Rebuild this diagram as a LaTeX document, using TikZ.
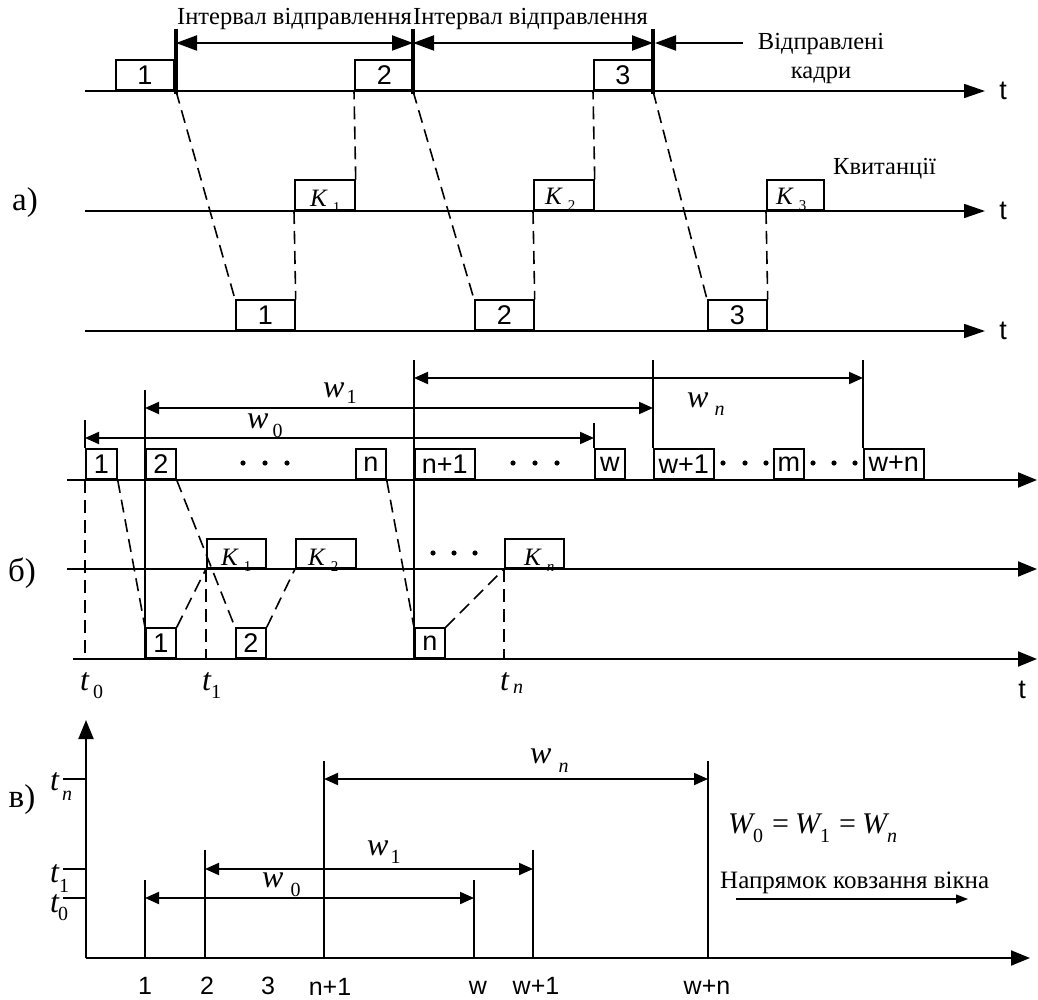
\documentclass[tikz,border=0pt]{standalone}
\usepackage{fontspec}
\setmainfont{Liberation Serif}
\setsansfont{Liberation Sans}
\usetikzlibrary{arrows.meta}
\newcommand\isub[4]{{\itshape #1}\kern#3pt\raisebox{-#4pt}{\fontsize{20}{20}\selectfont #2}}
\newcommand\klabel[1]{{\itshape K}\kern6pt\raisebox{-6pt}{\fontsize{15}{15}\selectfont #1}}
\tikzset{
 axisA/.style={line width=1.5pt, -{Triangle[length=21pt,width=14pt]}},
 axisB/.style={line width=2pt, -{Triangle[length=19pt,width=15pt]}},
 ln/.style={line width=2pt},
 thk/.style={line width=3.5pt},
 dimA/.style={line width=2pt, {Triangle[length=21pt,width=15pt]}-{Triangle[length=21pt,width=15pt]}},
 dimB/.style={line width=2pt, {Triangle[length=14pt,width=12pt]}-{Triangle[length=14pt,width=12pt]}},
 dsh/.style={line width=1.6pt, dash pattern=on 13pt off 7pt},
 frm/.style={draw, line width=1.7pt, inner sep=0pt, minimum height=30pt, anchor=south west, font=\sffamily\fontsize{27}{27}\selectfont},
 ser/.style={inner sep=0pt, font=\fontsize{24.5}{28}\selectfont},
 mlab/.style={inner sep=0pt, anchor=base west, font=\fontsize{32}{32}\selectfont},
 klab/.style={inner sep=0pt, anchor=base west, font=\fontsize{25}{25}\selectfont},
 tlab/.style={inner sep=0pt, font=\sffamily\fontsize{27}{27}\selectfont},
 xlab/.style={inner sep=0pt, anchor=base, font=\sffamily\fontsize{25}{25}\selectfont},
 plab/.style={inner sep=0pt, font=\fontsize{33}{33}\selectfont},
 dotf/.style={fill=black}
}
\begin{document}
\begin{tikzpicture}[x=1pt,y=-1pt]
\useasboundingbox (0,0) rectangle (1038,1000);
% ================= a) =================
\node[plab] (la) at (25,203) {а)};
\draw[axisA] (85,91) -- (985,91);
\draw[axisA] (85,211) -- (985,211);
\draw[axisA] (85,331) -- (985,331);
\node[tlab] (ta1) at (1003,91) {t};
\node[tlab] (ta2) at (1003,211) {t};
\node[tlab] (ta3) at (1003,331) {t};
% sent frames
\node[frm, minimum width=58pt] (s1) at (115,91) {1};
\node[frm, minimum width=59pt] (s2) at (354,91) {2};
\node[frm, minimum width=58pt] (s3) at (593,91) {3};
\coordinate (e1) at (176,91); \coordinate (e2) at (413,91); \coordinate (e3) at (653,91);
\coordinate (e1t) at (176,29); \coordinate (e2t) at (413,29); \coordinate (e3t) at (653,29);
\draw[thk] (e1t) -- (176,94);
\draw[thk] (e2t) -- (413,94);
\draw[thk] (e3t) -- (653,94);
\coordinate (d1) at (176,43); \coordinate (d2) at (413,43); \coordinate (d3) at (653,43);
\draw[dimA] (d1) -- (d2);
\draw[dimA] (d2) -- (d3);
\coordinate (sa) at (743,43);
\draw[line width=2pt, -{Triangle[length=21pt,width=15pt]}] (sa) -- (655,43);
\node[ser, anchor=base west] (i1) at (177,25) {Інтервал відправлення};
\node[ser, anchor=base west] (i2) at (413,25) {Інтервал відправлення};
\node[ser, anchor=base] (sent1) at (821,50) {Відправлені};
\node[ser, anchor=base] (sent2) at (821,79) {кадри};
\node[ser, anchor=base west] (kv) at (833,175) {Квитанції};
% acks
\node[frm, minimum width=60pt] (k1) at (294,211) {};
\node[frm, minimum width=60pt] (k2) at (533,211) {};
\node[frm, minimum width=57pt] (k3) at (766,211) {};
\node[klab] (k1l) at (310,207) {\klabel{1}};
\node[klab] (k2l) at (545,205) {\klabel{2}};
\node[klab] (k3l) at (776,205) {\klabel{3}};
% received
\node[frm, minimum width=59pt] (r1) at (235,331) {1};
\node[frm, minimum width=59pt] (r2) at (474,331) {2};
\node[frm, minimum width=59pt] (r3) at (707,331) {3};
\draw[dsh] (e1) -- (r1.north west);
\draw[dsh] (k1.south west) -- (r1.north east);
\draw[dsh] (k1.north east) -- (s2.south west);
\draw[dsh] (e2) -- (r2.north west);
\draw[dsh] (k2.south west) -- (r2.north east);
\draw[dsh] (k2.north east) -- (s3.south west);
\draw[dsh] (e3) -- (r3.north west);
\draw[dsh] (k3.south west) -- (r3.north east);
% ================= b) =================
\node[plab] (lb) at (22,573) {б)};
\draw[axisB] (67,480) -- (1037,480);
\draw[axisB] (67,569) -- (1037,569);
\draw[axisB] (73,659) -- (1037,659);
\node[tlab] (tb) at (1022,690) {t};
\node[frm, minimum width=31pt] (b1) at (85,480) {1};
\node[frm, minimum width=30pt] (b2) at (145,480) {2};
\node[frm, minimum width=30pt] (bn) at (355,480) {n};
\node[frm, minimum width=60pt] (bn1) at (414,480) {n+1};
\node[frm, minimum width=30pt] (bw) at (594,480) {w};
\node[frm, minimum width=60pt] (bw1) at (653,480) {w+1};
\node[frm, minimum width=30pt] (bm) at (773,480) {m};
\node[frm, minimum width=60pt] (bwn) at (863,480) {w+n};
\foreach \x in {243,265,287,513,535,557,723,745,766,813,834,855}
  \fill[dotf] (\x,463) circle (2.6pt);
\coordinate (v1) at (85,420); \coordinate (v2) at (145,390); \coordinate (v3) at (414,360);
\coordinate (v4) at (594,423); \coordinate (v5) at (653,360); \coordinate (v6) at (863,360);
\draw[ln] (v1) -- (b1.north west);
\draw[ln] (v2) -- (145,659);
\draw[ln] (v3) -- (414,659);
\draw[ln] (v4) -- (bw.north west);
\draw[ln] (v5) -- (bw1.north west);
\draw[ln] (v6) -- (bwn.north west);
\draw[dimB] (85,438) -- (594,438);
\draw[dimB] (145,408) -- (653,408);
\draw[dimB] (414,378) -- (863,378);
\node[mlab] (bw0l) at (247,428) {\isub{w}{0}{4}{9}};
\node[mlab] (bw1l) at (323,397) {\isub{w}{1}{2}{6}};
\node[mlab] (bwnl) at (687,407) {\isub{w}{\textit{n}}{6}{8}};
% acks
\node[frm, minimum width=59pt, minimum height=29pt] (kb1) at (206,569) {};
\node[frm, minimum width=60pt, minimum height=29pt] (kb2) at (295,569) {};
\node[frm, minimum width=59pt, minimum height=29pt] (kbn) at (504,569) {};
\node[klab] (kb1l) at (221,565) {\klabel{1}};
\node[klab] (kb2l) at (308,565) {\klabel{2}};
\node[klab] (kbnl) at (524,565) {\klabel{\textit{n}}};
\foreach \x in {433,454,475}
  \fill[dotf] (\x,553) circle (2.6pt);
% received
\node[frm, minimum width=30pt] (c1) at (145,659) {1};
\node[frm, minimum width=30pt] (c2) at (235,659) {2};
\node[frm, minimum width=30pt] (cn) at (414,659) {n};
\coordinate (t0p) at (85,659); \coordinate (t1p) at (206,659); \coordinate (tnp) at (504,659);
\draw[dsh] (b1.south west) -- (t0p);
\draw[dsh] (b1.south east) -- (c1.north west);
\draw[dsh] (b2.south east) -- (c2.north west);
\draw[dsh] (bn.south east) -- (cn.north west);
\draw[dsh] (c1.north east) -- (kb1.south west);
\draw[dsh] (c2.north east) -- (kb2.south west);
\draw[dsh] (cn.north east) -- (kbn.south west);
\draw[dsh] (kb1.south west) -- (t1p);
\draw[dsh] (kbn.south west) -- (tnp);
\node[mlab] (bt0) at (80,690) {\isub{t}{0}{4}{8}};
\node[mlab] (bt1) at (202,690) {\isub{t}{1}{0}{8}};
\node[mlab] (btn) at (500,690) {\isub{t}{\textit{n}}{4}{3}};
% ================= v) =================
\node[plab] (lv) at (22,800) {в)};
\coordinate (o) at (86,958);
\draw[axisB] (o) -- (86,720);
\draw[axisB] (o) -- (1030,958);
\draw[ln] (63,779) -- (86,779);
\draw[ln] (63,869) -- (86,869);
\draw[ln] (63,898) -- (86,898);
\node[mlab] (vtn) at (50,790) {\isub{t}{\textit{n}}{3}{10}};
\node[mlab] (vt1) at (50,882) {\isub{t}{1}{0}{10}};
\node[mlab] (vt0) at (50,912) {\isub{t}{0}{-1}{8}};
\draw[ln] (145,880) -- (145,958);
\draw[ln] (205,850) -- (205,958);
\draw[ln] (324,761) -- (324,958);
\draw[ln] (474,880) -- (474,958);
\draw[ln] (533,850) -- (533,958);
\draw[ln] (708,761) -- (708,958);
\draw[dimB] (145,898) -- (474,898);
\draw[dimB] (205,869) -- (533,869);
\draw[dimB] (324,779) -- (708,779);
\node[mlab] (vw0) at (262,887) {\isub{w}{0}{7}{9}};
\node[mlab] (vw1) at (367,855) {\isub{w}{1}{2}{8}};
\node[mlab] (vwn) at (530,763) {\isub{w}{\textit{n}}{7}{9}};
\node[xlab] (x1) at (145,994) {1};
\node[xlab] (x2) at (207,994) {2};
\node[xlab] (x3) at (268,994) {3};
\node[xlab] (x4) at (330,995) {n+1};
\node[xlab] (x5) at (478,994) {w};
\node[xlab] (x6) at (536,994) {w+1};
\node[xlab] (x7) at (707,994) {w+n};
\node[mlab, font=\fontsize{30}{30}\selectfont] (eq) at (728,833)
  {\isub{W}{0}{0}{9}\kern9pt=\kern6pt\isub{W}{1}{0}{9}\kern9pt=\kern6pt\isub{W}{\textit{n}}{0}{9}};
\node[ser, anchor=base west, font=\fontsize{25}{28}\selectfont] (dir) at (720,888) {Напрямок ковзання вікна};
\coordinate (da) at (736,899); \coordinate (db) at (968,899);
\draw[line width=1.3pt, -{Triangle[length=12pt,width=9pt]}] (da) -- (db);
\end{tikzpicture}
\end{document}
